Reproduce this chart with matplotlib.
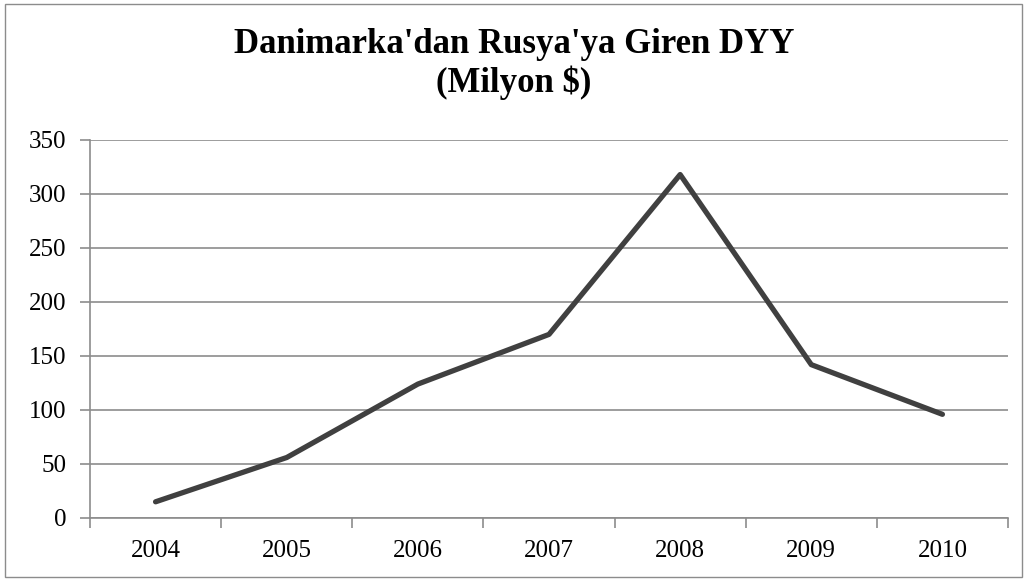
import numpy as np
import matplotlib.pyplot as plt
from matplotlib.patches import Rectangle

years = ['2004', '2005', '2006', '2007', '2008', '2009', '2010']
fdi = [15, 56, 124, 170, 318, 142, 96]

plt.rcParams['font.family'] = ['Liberation Serif', 'DejaVu Serif']

fig = plt.figure(figsize=(10.28, 5.81), dpi=100)
ax = fig.add_axes([90 / 1028, 1 - 518 / 581, 918 / 1028, 378 / 581])

x = np.arange(len(years))
ax.plot(x, fdi, color='#404040', linewidth=3.8, solid_capstyle='round', zorder=3)

ax.set_xlim(-0.5, len(years) - 0.5)
ax.set_ylim(0, 350)
ax.set_yticks(range(0, 351, 50))
ax.yaxis.grid(True, color='#8c8c8c', linewidth=1.2)
ax.set_axisbelow(True)

ax.set_xticks(np.arange(-0.5, len(years), 1))
ax.set_xticklabels([])
ax.set_xticks(x, minor=True)
ax.set_xticklabels(years, minor=True)
ax.tick_params(axis='x', which='minor', length=0, pad=16, labelsize=18)
ax.tick_params(axis='x', which='major', length=7, color='#8c8c8c', width=1.2)
ax.tick_params(axis='y', length=7, color='#8c8c8c', width=1.2, labelsize=18, pad=10)

for side in ['top', 'right']:
    ax.spines[side].set_visible(False)
for side in ['left', 'bottom']:
    ax.spines[side].set_color('#8c8c8c')
    ax.spines[side].set_linewidth(1.2)

fig.text(0.5, 1 - 64 / 581, "Danimarka'dan Rusya'ya Giren DYY\n(Milyon $)",
         ha='center', va='center', fontsize=25, fontweight='bold', linespacing=1.15)

fig.patches.append(Rectangle((5 / 1028, 4 / 581), 1017 / 1028, 573 / 581,
                             transform=fig.transFigure, fill=False,
                             edgecolor='#8c8c8c', linewidth=1.0))

fig.savefig('out.png', dpi=100)
